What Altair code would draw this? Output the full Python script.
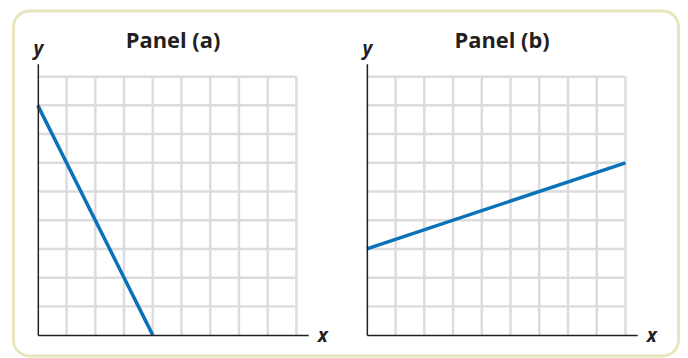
import altair as alt
import pandas as pd

# ---- data ----
grid_lines = [1, 2, 3, 4, 5, 6, 7, 8, 9]      # grid positions (both axes)
grid_max = 9
x_axis_end = 9.41                              # axis lines run a bit past the grid
y_axis_end = 9.45
line_a_x = [0, 4]
line_a_y = [8, 0]
line_b_x = [0, 9]
line_b_y = [3, 6]
titles = ["Panel (a)", "Panel (b)"]

W, H = 272, 273
GRID = "#dcdcde"
BLUE = "#0a72bb"
INK = "#231f20"
FRAME = "#e8e5bd"

grid_df = pd.DataFrame({"g": grid_lines})


def panel(lx, ly, title, with_frame=False):
    xs = alt.Scale(domain=[0, x_axis_end], nice=False, zero=False)
    ys = alt.Scale(domain=[0, y_axis_end], nice=False, zero=False)
    xaxis = alt.Axis(domain=True, domainColor=INK, domainWidth=1.5, ticks=False,
                     labels=False, grid=False, title="x", titleFont="Open Sans",
                     titleFontSize=19, titleFontWeight="bold", titleFontStyle="italic",
                     titleColor=INK, titleX=W + 9, titleY=6, titleAlign="left",
                     titleBaseline="alphabetic", zindex=1)
    yaxis = alt.Axis(domain=True, domainColor=INK, domainWidth=1.5, ticks=False,
                     labels=False, grid=False, title="y", titleFont="Open Sans",
                     titleFontSize=19, titleFontWeight="bold", titleFontStyle="italic",
                     titleColor=INK, titleAngle=0, titleX=0, titleY=-9,
                     titleAlign="center", titleBaseline="alphabetic", zindex=1)

    vgrid = alt.Chart(grid_df).mark_rule(color=GRID, strokeWidth=2.5).encode(
        x=alt.X("g:Q", scale=xs, axis=xaxis),
        y=alt.datum(0, scale=ys, axis=yaxis),
        y2=alt.datum(grid_max),
    )
    hgrid = alt.Chart(grid_df).mark_rule(color=GRID, strokeWidth=2.5).encode(
        y=alt.Y("g:Q", scale=ys, axis=yaxis),
        x=alt.datum(0, scale=xs),
        x2=alt.datum(grid_max),
    )
    line = alt.Chart(pd.DataFrame({"x": lx, "y": ly})).mark_line(
        color=BLUE, strokeWidth=3.5, strokeCap="butt"
    ).encode(
        x=alt.X("x:Q", scale=xs, axis=xaxis),
        y=alt.Y("y:Q", scale=ys, axis=yaxis),
    )
    head = alt.Chart(pd.DataFrame({"t": [title]})).mark_text(
        font="Open Sans", fontSize=22, fontWeight="bold", color=INK,
        align="center", baseline="alphabetic"
    ).encode(text="t:N", x=alt.value(W / 2), y=alt.value(-15.5))
    layers = [vgrid, hgrid, line, head]
    if with_frame:
        frame = alt.Chart(pd.DataFrame({"a": [0]})).mark_rect(
            fill="transparent", stroke=FRAME, strokeWidth=3, cornerRadius=16
        ).encode(
            x=alt.value(-24.5), x2=alt.value(644.5),
            y=alt.value(-53), y2=alt.value(294),
        )
        layers = [frame] + layers
    return alt.layer(*layers).properties(width=W, height=H)


chart = alt.hconcat(
    panel(line_a_x, line_a_y, titles[0], with_frame=True),
    panel(line_b_x, line_b_y, titles[1]),
    spacing=59, bounds="flush",
).properties(
    padding={"left": 4, "top": 0, "right": 0, "bottom": 0},
    background="white",
).configure_view(strokeOpacity=0)

chart.save("out.html", embed_options={"renderer": "svg", "actions": False})
